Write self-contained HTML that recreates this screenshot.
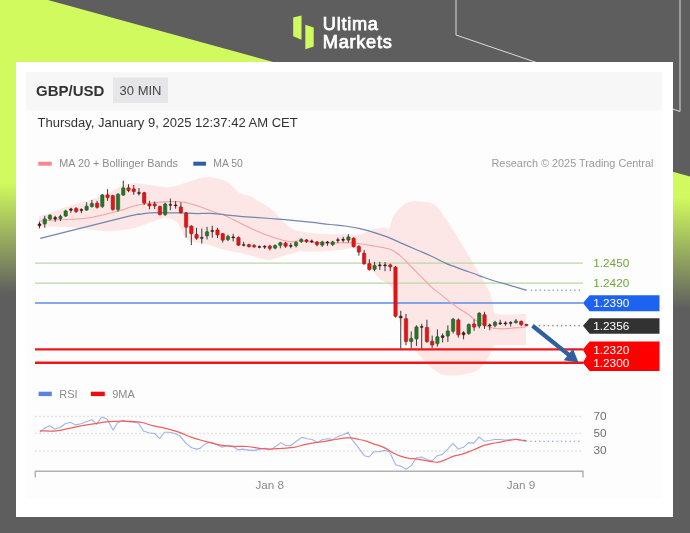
<!DOCTYPE html>
<html><head><meta charset="utf-8">
<style>
html,body{margin:0;padding:0;}
body{width:690px;height:533px;overflow:hidden;background:#5e5e5e;font-family:"Liberation Sans",sans-serif;position:relative;}
svg{position:absolute;left:0;top:0;}
svg text{font-family:"Liberation Sans",sans-serif;}
</style></head><body>
<svg width="690" height="533" viewBox="0 0 690 533">
<defs>
<linearGradient id="bg" gradientUnits="userSpaceOnUse" x1="0" y1="183" x2="-2.4" y2="294">
<stop offset="0" stop-color="#d0fa5e"/><stop offset="1" stop-color="#5e5e5e"/>
</linearGradient>
</defs>
<rect width="690" height="533" fill="#5e5e5e"/>
<polygon points="0,0 48,0 690,176.5 690,533 0,533" fill="url(#bg)"/>
<polyline points="456,0 456,35 680,111.5 680,0" fill="none" stroke="#dcdcdc" stroke-width="1"/>
<!-- logo -->
<g id="logo">
<polygon points="293.2,17.5 301.5,15.4 301.5,39.8 293.2,36.3" fill="#d0fa5e"/>
<polygon points="305.3,24.7 313.7,27.6 313.7,46.4 305.3,49.3" fill="#d0fa5e"/>
<text x="322.8" y="30.2" font-size="18.2" fill="#fff" stroke="#fff" stroke-width="0.75" letter-spacing="0.72">Ultima</text>
<text x="322.8" y="48" font-size="18.2" fill="#fff" stroke="#fff" stroke-width="0.75" letter-spacing="0.72">Markets</text>
</g>
<!-- card -->
<rect x="16" y="62" width="657" height="455" fill="#ffffff"/>
<rect x="26" y="72" width="636" height="427" fill="#fdfdfd"/>
<rect x="26" y="72" width="636" height="38.5" fill="#f7f7f7"/>
<rect x="113" y="77.5" width="55" height="25.5" fill="#e6e6ea"/>
<filter id="bl" x="0" y="0" width="690" height="533" filterUnits="userSpaceOnUse"><feGaussianBlur stdDeviation="0.4"/></filter>
<g filter="url(#bl)">
<text x="36" y="95.7" font-size="15" font-weight="700" fill="#333">GBP/USD</text>
<text x="119.6" y="95.3" font-size="13" fill="#444">30 MIN</text>
<text x="37.5" y="127.3" font-size="13.03" fill="#333">Thursday, January 9, 2025 12:37:42 AM CET</text>
<!-- legend -->
<rect x="38.3" y="161.7" width="13.4" height="4" fill="#f08a90"/>
<text x="59.3" y="167.3" font-size="10.8" fill="#8c8c8c">MA 20 + Bollinger Bands</text>
<rect x="193.3" y="161.7" width="12.7" height="4" fill="#2e5fa6"/>
<text x="213.3" y="167.3" font-size="10.4" fill="#8c8c8c">MA 50</text>
<text x="491.5" y="167.3" font-size="10.86" fill="#9a9a9a">Research © 2025 Trading Central</text>
<!-- bollinger -->
<path d="M38.9,215.7 C40.8,215.3 45.0,214.6 50.3,212.9 C55.6,211.2 63.8,207.8 70.6,205.6 C77.3,203.4 84.1,201.9 90.9,199.5 C97.6,197.1 105.8,193.7 111.2,191.4 C116.6,189.0 119.3,186.6 123.3,185.3 C127.4,183.9 130.8,183.3 135.5,183.3 C140.3,183.3 146.3,184.6 151.8,185.3 C157.2,186.0 162.6,187.7 168.0,187.3 C173.4,187.0 179.6,184.6 184.2,183.3 C188.9,182.0 192.9,180.5 196.0,179.5 C199.1,178.5 200.3,177.8 203.0,177.5 C205.7,177.2 209.0,177.2 212.0,177.5 C215.0,177.8 218.3,178.7 221.0,179.5 C223.7,180.3 224.8,180.2 228.0,182.5 C231.2,184.8 236.4,190.8 240.0,193.0 C243.7,195.3 246.9,194.8 249.8,196.0 C252.7,197.3 254.8,199.0 257.3,200.5 C259.8,202.0 262.3,203.4 264.8,205.0 C267.3,206.6 270.3,208.6 272.3,210.3 C274.3,211.9 275.3,213.3 276.8,214.8 C278.3,216.3 279.6,217.5 281.3,219.3 C283.0,221.0 285.1,223.7 286.9,225.3 C288.7,226.9 290.1,227.7 292.3,228.7 C294.5,229.7 296.2,230.5 300.0,231.3 C303.8,232.1 310.0,233.0 315.0,233.5 C320.0,234.0 325.0,234.2 330.0,234.3 C335.0,234.4 340.5,234.2 345.0,234.3 C349.5,234.4 354.1,235.2 357.1,235.0 C360.1,234.9 360.6,234.4 363.1,233.5 C365.6,232.7 368.6,230.8 372.1,229.8 C375.6,228.8 381.3,227.7 384.1,227.5 C386.9,227.4 387.5,230.8 389.0,229.0 C390.5,227.2 391.0,220.7 393.0,217.0 C395.0,213.3 398.3,209.5 401.0,207.0 C403.7,204.5 405.7,202.9 409.0,202.0 C412.3,201.1 416.7,201.0 421.0,201.5 C425.3,202.0 430.8,202.1 435.0,205.0 C439.2,207.9 442.2,213.5 446.0,219.0 C449.8,224.5 454.0,231.5 458.0,238.0 C462.0,244.5 466.0,251.3 470.0,258.0 C474.0,264.7 478.8,272.3 482.0,278.0 C485.2,283.7 487.7,287.7 489.5,292.0 C491.3,296.3 491.8,300.3 493.0,304.0 C494.2,307.7 491.5,312.3 497.0,314.0 C502.5,315.7 521.2,314.0 526.0,314.0 L526.0,345.3 C521.3,345.3 503.3,345.2 498.0,345.3 C492.7,345.4 495.2,344.9 494.0,346.0 C492.8,347.1 492.3,349.5 491.0,352.0 C489.7,354.5 488.5,357.8 486.0,361.0 C483.5,364.2 480.3,368.7 476.0,371.0 C471.7,373.3 465.3,374.3 460.0,375.0 C454.7,375.7 448.5,376.0 444.0,375.0 C439.5,374.0 436.8,372.0 433.0,369.0 C429.2,366.0 425.0,361.3 421.0,357.0 C417.0,352.7 412.7,349.2 409.0,343.0 C405.3,336.8 401.7,328.5 399.0,320.0 C396.3,311.5 394.8,298.0 393.0,292.0 C391.2,286.0 390.2,286.2 388.0,284.0 C385.8,281.8 382.7,281.3 380.0,279.0 C377.3,276.7 374.3,273.3 372.0,270.0 C369.7,266.7 368.0,262.2 366.0,259.0 C364.0,255.8 362.2,252.9 360.0,251.0 C357.8,249.1 355.0,248.1 352.6,247.8 C350.1,247.5 348.8,248.8 345.0,249.3 C341.3,249.8 335.0,250.4 330.0,250.8 C325.0,251.2 319.5,251.4 315.0,251.6 C310.5,251.7 305.6,251.7 303.1,251.6 C300.6,251.4 301.5,250.6 300.0,250.8 C298.5,251.1 296.6,252.3 294.1,253.1 C291.6,253.8 288.1,254.4 285.1,255.3 C282.1,256.2 278.6,257.6 276.1,258.3 C273.6,259.1 272.3,259.7 270.1,259.8 C267.8,259.9 265.6,259.7 262.6,259.1 C259.5,258.4 255.8,257.1 252.0,256.1 C248.3,255.1 243.3,253.8 240.0,253.1 C236.8,252.3 235.5,252.2 232.5,251.6 C229.5,250.9 226.8,250.6 222.0,249.3 C217.3,248.0 209.1,244.8 204.1,243.6 C199.1,242.4 195.1,242.9 192.1,242.1 C189.1,241.2 188.1,240.8 186.1,238.3 C184.1,235.8 181.6,229.7 180.1,227.1 C178.6,224.4 178.6,223.9 177.1,222.6 C175.6,221.2 173.1,219.5 171.1,218.8 C169.0,218.0 167.0,217.9 165.0,218.0 C163.0,218.2 161.5,218.8 159.0,219.5 C156.5,220.3 154.0,221.2 150.0,222.6 C146.0,223.9 141.0,226.4 135.0,227.8 C129.0,229.2 120.3,230.5 114.1,231.0 C107.8,231.4 104.1,230.9 97.6,230.4 C91.1,229.8 84.8,228.5 75.0,227.8 C65.3,227.1 45.0,226.6 39.0,226.3 Z" fill="#fde6e6"/>
<!-- h lines -->
<line x1="35" x2="583" y1="263.1" y2="263.1" stroke="#b9d9a2" stroke-width="1.4"/>
<line x1="35" x2="583" y1="283.1" y2="283.1" stroke="#b9d9a2" stroke-width="1.4"/>
<line x1="35" x2="583" y1="303" y2="303" stroke="#5b8be8" stroke-width="1.4"/>
<line x1="35" x2="583" y1="349.4" y2="349.4" stroke="#f01818" stroke-width="2.4"/>
<line x1="35" x2="583" y1="362.8" y2="362.8" stroke="#f01818" stroke-width="2.4"/>
<!-- MAs -->
<path d="M39.0,221.1 C42.5,220.9 51.5,220.4 60.0,219.8 C68.5,219.3 80.1,219.3 90.1,217.7 C100.1,216.2 113.5,212.2 120.0,210.5 C126.5,208.8 125.8,208.5 129.0,207.5 C132.3,206.6 136.0,205.6 139.5,204.8 C143.0,204.1 146.8,203.5 150.0,203.0 C153.3,202.6 155.8,202.5 159.0,202.3 C162.3,202.0 166.0,201.6 169.5,201.5 C173.1,201.5 177.1,201.6 180.1,201.8 C183.1,202.1 184.6,202.3 187.6,203.0 C190.6,203.7 194.8,205.0 198.1,206.0 C201.3,207.1 204.1,208.2 207.1,209.3 C210.1,210.5 213.1,211.8 216.1,212.8 C219.1,213.8 222.3,214.4 225.0,215.5 C227.8,216.6 230.0,218.0 232.5,219.3 C235.0,220.5 237.5,221.8 240.0,223.0 C242.5,224.3 245.0,225.6 247.5,226.8 C250.0,228.0 252.5,229.1 255.0,230.2 C257.5,231.4 260.1,232.5 262.6,233.5 C265.1,234.5 267.6,235.4 270.1,236.2 C272.6,237.1 275.1,238.0 277.6,238.8 C280.1,239.5 282.6,240.3 285.1,240.8 C287.6,241.3 290.1,241.8 292.6,241.8 C295.1,241.8 296.3,240.6 300.0,240.8 C303.7,240.9 310.0,242.1 315.0,242.6 C320.0,243.0 325.5,243.3 330.0,243.3 C334.5,243.3 338.5,242.6 342.0,242.6 C345.5,242.5 348.0,242.7 351.1,242.9 C354.1,243.1 356.1,243.2 360.1,243.8 C364.1,244.3 370.1,245.4 375.1,246.3 C380.1,247.2 385.8,247.7 390.1,249.3 C394.3,251.0 397.1,253.3 400.6,256.2 C404.1,259.0 407.5,263.1 410.9,266.5 C414.4,269.9 417.8,273.4 421.2,276.8 C424.7,280.2 428.1,284.0 431.5,287.1 C435.0,290.2 438.4,292.6 441.9,295.4 C445.3,298.1 449.1,301.3 452.2,303.6 C455.2,305.9 457.4,307.6 460.0,309.3 C462.6,311.0 465.0,312.0 467.5,313.8 C470.0,315.5 472.5,318.0 475.0,319.8 C477.5,321.5 480.0,323.0 482.5,324.3 C485.0,325.5 487.5,326.5 490.0,327.3 C492.5,328.0 495.0,328.5 497.5,328.8 C500.0,329.0 502.5,328.9 505.0,328.8 C507.5,328.7 510.1,328.2 512.6,328.0 C515.1,327.9 517.8,327.9 520.1,327.7 C522.3,327.5 525.1,327.0 526.1,326.8" fill="none" stroke="#f3a3a3" stroke-width="1.1"/>
<path d="M40.2,238.3 C55.0,234.6 112.5,220.3 129.0,216.2 C145.6,212.2 136.0,214.9 139.5,214.3 C143.0,213.7 146.8,213.1 150.0,212.8 C153.3,212.5 155.8,212.5 159.0,212.5 C162.3,212.5 166.0,212.7 169.5,212.8 C173.1,212.8 177.1,212.7 180.1,212.8 C183.1,212.9 184.6,213.1 187.6,213.2 C190.6,213.4 194.3,213.5 198.1,213.5 C201.8,213.5 205.5,213.1 210.0,213.3 C214.5,213.5 220.0,214.3 225.0,214.8 C230.0,215.3 235.0,215.9 240.0,216.3 C245.0,216.7 250.0,217.0 255.0,217.3 C260.1,217.7 265.1,218.1 270.1,218.5 C275.1,218.9 280.1,219.3 285.1,219.7 C290.1,220.2 295.0,220.6 300.0,221.1 C305.0,221.6 310.0,222.2 315.0,222.7 C320.0,223.3 325.0,224.0 330.0,224.5 C335.0,225.1 340.0,225.3 345.0,226.0 C350.1,226.7 355.1,227.6 360.1,228.7 C365.1,229.9 370.6,231.4 375.1,232.8 C379.6,234.1 382.9,235.2 387.1,236.8 C391.2,238.5 395.0,240.4 400.0,242.6 C405.0,244.7 411.9,247.7 417.1,250.0 C422.4,252.3 426.7,254.0 431.5,256.2 C436.4,258.4 440.8,261.2 446.0,263.4 C451.1,265.6 456.8,267.5 462.5,269.6 C468.1,271.6 475.2,274.0 480.0,275.8 C484.8,277.5 483.7,277.6 491.5,280.0 C499.3,282.4 520.9,288.5 526.8,290.2" fill="none" stroke="#7087b2" stroke-width="1.25"/>
<rect x="530.80" y="289.50" width="1.4" height="1.4" fill="#8aa3cf"/><rect x="535.15" y="289.50" width="1.4" height="1.4" fill="#8aa3cf"/><rect x="539.50" y="289.50" width="1.4" height="1.4" fill="#8aa3cf"/><rect x="543.85" y="289.50" width="1.4" height="1.4" fill="#8aa3cf"/><rect x="548.20" y="289.50" width="1.4" height="1.4" fill="#8aa3cf"/><rect x="552.55" y="289.50" width="1.4" height="1.4" fill="#8aa3cf"/><rect x="556.90" y="289.50" width="1.4" height="1.4" fill="#8aa3cf"/><rect x="561.25" y="289.50" width="1.4" height="1.4" fill="#8aa3cf"/><rect x="565.60" y="289.50" width="1.4" height="1.4" fill="#8aa3cf"/><rect x="569.95" y="289.50" width="1.4" height="1.4" fill="#8aa3cf"/><rect x="574.30" y="289.50" width="1.4" height="1.4" fill="#8aa3cf"/><rect x="578.65" y="289.50" width="1.4" height="1.4" fill="#8aa3cf"/>
<rect x="539.00" y="324.90" width="1.4" height="1.4" fill="#8a8a8a"/><rect x="543.38" y="324.90" width="1.4" height="1.4" fill="#8a8a8a"/><rect x="547.76" y="324.90" width="1.4" height="1.4" fill="#8a8a8a"/><rect x="552.14" y="324.90" width="1.4" height="1.4" fill="#8a8a8a"/><rect x="556.52" y="324.90" width="1.4" height="1.4" fill="#8a8a8a"/><rect x="560.90" y="324.90" width="1.4" height="1.4" fill="#8a8a8a"/><rect x="565.28" y="324.90" width="1.4" height="1.4" fill="#8a8a8a"/><rect x="569.66" y="324.90" width="1.4" height="1.4" fill="#8a8a8a"/><rect x="574.04" y="324.90" width="1.4" height="1.4" fill="#8a8a8a"/><rect x="578.42" y="324.90" width="1.4" height="1.4" fill="#8a8a8a"/>
<!-- candles -->
<line x1="39.50" y1="221.8" x2="39.50" y2="228.3" stroke="#3a3a3a" stroke-width="1"/>
<rect x="38.00" y="223.8" width="3.0" height="2.1" rx="0.8" fill="#4a1a1a" stroke="#4a1a1a" stroke-width="0.5"/>
<line x1="44.74" y1="215.8" x2="44.74" y2="227.8" stroke="#3a3a3a" stroke-width="1"/>
<rect x="43.04" y="218.8" width="3.4" height="5.3" rx="0.8" fill="#257529" stroke="#1e5a22" stroke-width="0.5"/>
<line x1="49.97" y1="214.3" x2="49.97" y2="220.3" stroke="#3a3a3a" stroke-width="1"/>
<rect x="48.27" y="215.0" width="3.4" height="4.2" rx="0.8" fill="#257529" stroke="#1e5a22" stroke-width="0.5"/>
<line x1="55.21" y1="215.8" x2="55.21" y2="221.8" stroke="#3a3a3a" stroke-width="1"/>
<rect x="53.71" y="217.3" width="3.0" height="2.0" rx="0.8" fill="#4a1a1a" stroke="#4a1a1a" stroke-width="0.5"/>
<line x1="60.44" y1="214.7" x2="60.44" y2="221.1" stroke="#3a3a3a" stroke-width="1"/>
<rect x="58.74" y="216.2" width="3.4" height="2.6" rx="0.8" fill="#257529" stroke="#1e5a22" stroke-width="0.5"/>
<line x1="65.68" y1="209.8" x2="65.68" y2="216.8" stroke="#3a3a3a" stroke-width="1"/>
<rect x="63.98" y="210.8" width="3.4" height="5.4" rx="0.8" fill="#257529" stroke="#1e5a22" stroke-width="0.5"/>
<line x1="70.91" y1="207.8" x2="70.91" y2="212.8" stroke="#3a3a3a" stroke-width="1"/>
<rect x="69.41" y="208.7" width="3.0" height="1.8" rx="0.8" fill="#4a1a1a" stroke="#4a1a1a" stroke-width="0.5"/>
<line x1="76.15" y1="207.2" x2="76.15" y2="212.8" stroke="#3a3a3a" stroke-width="1"/>
<rect x="74.45" y="208.3" width="3.4" height="3.5" rx="0.8" fill="#e01515" stroke="#a01010" stroke-width="0.5"/>
<line x1="81.38" y1="208.3" x2="81.38" y2="213.2" stroke="#3a3a3a" stroke-width="1"/>
<rect x="79.88" y="209.3" width="3.0" height="1.5" rx="0.8" fill="#4a1a1a" stroke="#4a1a1a" stroke-width="0.5"/>
<line x1="86.62" y1="202.3" x2="86.62" y2="210.8" stroke="#3a3a3a" stroke-width="1"/>
<rect x="84.92" y="206.0" width="3.4" height="4.2" rx="0.8" fill="#257529" stroke="#1e5a22" stroke-width="0.5"/>
<line x1="91.86" y1="200.0" x2="91.86" y2="207.5" stroke="#3a3a3a" stroke-width="1"/>
<rect x="90.16" y="203.3" width="3.4" height="3.5" rx="0.8" fill="#257529" stroke="#1e5a22" stroke-width="0.5"/>
<line x1="97.09" y1="200.8" x2="97.09" y2="208.7" stroke="#3a3a3a" stroke-width="1"/>
<rect x="95.39" y="203.0" width="3.4" height="4.5" rx="0.8" fill="#e01515" stroke="#a01010" stroke-width="0.5"/>
<line x1="102.33" y1="194.0" x2="102.33" y2="207.8" stroke="#3a3a3a" stroke-width="1"/>
<rect x="100.63" y="194.8" width="3.4" height="12.0" rx="0.8" fill="#257529" stroke="#1e5a22" stroke-width="0.5"/>
<line x1="107.56" y1="189.2" x2="107.56" y2="200.8" stroke="#3a3a3a" stroke-width="1"/>
<rect x="105.86" y="194.8" width="3.4" height="3.0" rx="0.8" fill="#e01515" stroke="#a01010" stroke-width="0.5"/>
<line x1="112.80" y1="194.8" x2="112.80" y2="210.5" stroke="#3a3a3a" stroke-width="1"/>
<rect x="111.10" y="195.5" width="3.4" height="14.3" rx="0.8" fill="#e01515" stroke="#a01010" stroke-width="0.5"/>
<line x1="118.03" y1="193.3" x2="118.03" y2="211.7" stroke="#3a3a3a" stroke-width="1"/>
<rect x="116.33" y="194.0" width="3.4" height="15.8" rx="0.8" fill="#257529" stroke="#1e5a22" stroke-width="0.5"/>
<line x1="123.27" y1="180.8" x2="123.27" y2="195.8" stroke="#3a3a3a" stroke-width="1"/>
<rect x="121.57" y="187.7" width="3.4" height="7.5" rx="0.8" fill="#257529" stroke="#1e5a22" stroke-width="0.5"/>
<line x1="128.50" y1="184.3" x2="128.50" y2="192.2" stroke="#3a3a3a" stroke-width="1"/>
<rect x="126.80" y="187.7" width="3.4" height="3.0" rx="0.8" fill="#e01515" stroke="#a01010" stroke-width="0.5"/>
<line x1="133.74" y1="185.0" x2="133.74" y2="194.8" stroke="#3a3a3a" stroke-width="1"/>
<rect x="132.04" y="188.8" width="3.4" height="3.0" rx="0.8" fill="#e01515" stroke="#a01010" stroke-width="0.5"/>
<line x1="138.97" y1="188.0" x2="138.97" y2="195.5" stroke="#3a3a3a" stroke-width="1"/>
<rect x="137.47" y="192.2" width="3.0" height="1.5" rx="0.8" fill="#4a1a1a" stroke="#4a1a1a" stroke-width="0.5"/>
<line x1="144.21" y1="191.8" x2="144.21" y2="204.8" stroke="#3a3a3a" stroke-width="1"/>
<rect x="142.51" y="192.5" width="3.4" height="10.8" rx="0.8" fill="#e01515" stroke="#a01010" stroke-width="0.5"/>
<line x1="149.45" y1="200.8" x2="149.45" y2="209.3" stroke="#3a3a3a" stroke-width="1"/>
<rect x="147.75" y="203.8" width="3.4" height="2.3" rx="0.8" fill="#e01515" stroke="#a01010" stroke-width="0.5"/>
<line x1="154.68" y1="201.5" x2="154.68" y2="209.0" stroke="#3a3a3a" stroke-width="1"/>
<rect x="152.98" y="203.8" width="3.4" height="2.3" rx="0.8" fill="#e01515" stroke="#a01010" stroke-width="0.5"/>
<line x1="159.92" y1="205.7" x2="159.92" y2="215.3" stroke="#3a3a3a" stroke-width="1"/>
<rect x="158.22" y="206.3" width="3.4" height="8.4" rx="0.8" fill="#e01515" stroke="#a01010" stroke-width="0.5"/>
<line x1="165.15" y1="202.7" x2="165.15" y2="215.8" stroke="#3a3a3a" stroke-width="1"/>
<rect x="163.45" y="203.8" width="3.4" height="11.0" rx="0.8" fill="#257529" stroke="#1e5a22" stroke-width="0.5"/>
<line x1="170.39" y1="198.5" x2="170.39" y2="210.2" stroke="#3a3a3a" stroke-width="1"/>
<rect x="168.89" y="204.2" width="3.0" height="1.2" rx="0.8" fill="#4a1a1a" stroke="#4a1a1a" stroke-width="0.5"/>
<line x1="175.62" y1="201.2" x2="175.62" y2="208.7" stroke="#3a3a3a" stroke-width="1"/>
<rect x="174.12" y="204.8" width="3.0" height="1.2" rx="0.8" fill="#4a1a1a" stroke="#4a1a1a" stroke-width="0.5"/>
<line x1="180.86" y1="202.3" x2="180.86" y2="213.5" stroke="#3a3a3a" stroke-width="1"/>
<rect x="179.16" y="206.8" width="3.4" height="6.0" rx="0.8" fill="#e01515" stroke="#a01010" stroke-width="0.5"/>
<line x1="186.09" y1="212.0" x2="186.09" y2="237.6" stroke="#3a3a3a" stroke-width="1"/>
<rect x="184.39" y="212.8" width="3.4" height="14.6" rx="0.8" fill="#e01515" stroke="#a01010" stroke-width="0.5"/>
<line x1="191.33" y1="225.3" x2="191.33" y2="245.1" stroke="#3a3a3a" stroke-width="1"/>
<rect x="189.63" y="225.9" width="3.4" height="8.0" rx="0.8" fill="#e01515" stroke="#a01010" stroke-width="0.5"/>
<line x1="196.56" y1="227.8" x2="196.56" y2="239.8" stroke="#3a3a3a" stroke-width="1"/>
<rect x="194.87" y="234.3" width="3.4" height="4.1" rx="0.8" fill="#e01515" stroke="#a01010" stroke-width="0.5"/>
<line x1="201.80" y1="228.6" x2="201.80" y2="243.6" stroke="#3a3a3a" stroke-width="1"/>
<rect x="200.30" y="237.3" width="3.0" height="1.2" rx="0.8" fill="#4a1a1a" stroke="#4a1a1a" stroke-width="0.5"/>
<line x1="207.04" y1="226.8" x2="207.04" y2="239.4" stroke="#3a3a3a" stroke-width="1"/>
<rect x="205.34" y="231.6" width="3.4" height="4.5" rx="0.8" fill="#257529" stroke="#1e5a22" stroke-width="0.5"/>
<line x1="212.27" y1="225.7" x2="212.27" y2="237.7" stroke="#3a3a3a" stroke-width="1"/>
<rect x="210.77" y="230.2" width="3.0" height="1.5" rx="0.8" fill="#4a1a1a" stroke="#4a1a1a" stroke-width="0.5"/>
<line x1="217.51" y1="227.8" x2="217.51" y2="238.0" stroke="#3a3a3a" stroke-width="1"/>
<rect x="215.81" y="229.8" width="3.4" height="5.3" rx="0.8" fill="#e01515" stroke="#a01010" stroke-width="0.5"/>
<line x1="222.74" y1="232.8" x2="222.74" y2="242.6" stroke="#3a3a3a" stroke-width="1"/>
<rect x="221.04" y="233.5" width="3.4" height="6.8" rx="0.8" fill="#e01515" stroke="#a01010" stroke-width="0.5"/>
<line x1="227.98" y1="234.7" x2="227.98" y2="241.1" stroke="#3a3a3a" stroke-width="1"/>
<rect x="226.28" y="236.2" width="3.4" height="3.6" rx="0.8" fill="#257529" stroke="#1e5a22" stroke-width="0.5"/>
<line x1="233.21" y1="233.8" x2="233.21" y2="241.4" stroke="#3a3a3a" stroke-width="1"/>
<rect x="231.71" y="236.8" width="3.0" height="1.2" rx="0.8" fill="#4a1a1a" stroke="#4a1a1a" stroke-width="0.5"/>
<line x1="238.45" y1="236.5" x2="238.45" y2="245.9" stroke="#3a3a3a" stroke-width="1"/>
<rect x="236.75" y="237.3" width="3.4" height="8.0" rx="0.8" fill="#e01515" stroke="#a01010" stroke-width="0.5"/>
<line x1="243.68" y1="241.8" x2="243.68" y2="246.3" stroke="#3a3a3a" stroke-width="1"/>
<rect x="242.18" y="244.4" width="3.0" height="1.2" rx="0.8" fill="#4a1a1a" stroke="#4a1a1a" stroke-width="0.5"/>
<line x1="248.92" y1="243.8" x2="248.92" y2="247.4" stroke="#3a3a3a" stroke-width="1"/>
<rect x="247.22" y="244.4" width="3.4" height="2.4" rx="0.8" fill="#e01515" stroke="#a01010" stroke-width="0.5"/>
<line x1="254.16" y1="244.1" x2="254.16" y2="247.8" stroke="#3a3a3a" stroke-width="1"/>
<rect x="252.46" y="245.3" width="3.4" height="1.8" rx="0.8" fill="#e01515" stroke="#a01010" stroke-width="0.5"/>
<line x1="259.39" y1="245.6" x2="259.39" y2="248.3" stroke="#3a3a3a" stroke-width="1"/>
<rect x="257.89" y="246.3" width="3.0" height="1.2" rx="0.8" fill="#4a1a1a" stroke="#4a1a1a" stroke-width="0.5"/>
<line x1="264.63" y1="245.3" x2="264.63" y2="248.9" stroke="#3a3a3a" stroke-width="1"/>
<rect x="263.13" y="246.0" width="3.0" height="1.2" rx="0.8" fill="#4a1a1a" stroke="#4a1a1a" stroke-width="0.5"/>
<line x1="269.86" y1="244.8" x2="269.86" y2="250.4" stroke="#3a3a3a" stroke-width="1"/>
<rect x="268.16" y="245.9" width="3.4" height="2.7" rx="0.8" fill="#e01515" stroke="#a01010" stroke-width="0.5"/>
<line x1="275.10" y1="244.4" x2="275.10" y2="249.3" stroke="#3a3a3a" stroke-width="1"/>
<rect x="273.40" y="245.3" width="3.4" height="3.0" rx="0.8" fill="#257529" stroke="#1e5a22" stroke-width="0.5"/>
<line x1="280.33" y1="241.8" x2="280.33" y2="248.3" stroke="#3a3a3a" stroke-width="1"/>
<rect x="278.63" y="242.6" width="3.4" height="3.0" rx="0.8" fill="#257529" stroke="#1e5a22" stroke-width="0.5"/>
<line x1="285.57" y1="241.8" x2="285.57" y2="247.8" stroke="#3a3a3a" stroke-width="1"/>
<rect x="283.87" y="242.9" width="3.4" height="3.5" rx="0.8" fill="#e01515" stroke="#a01010" stroke-width="0.5"/>
<line x1="290.80" y1="242.9" x2="290.80" y2="248.3" stroke="#3a3a3a" stroke-width="1"/>
<rect x="289.30" y="245.3" width="3.0" height="1.2" rx="0.8" fill="#4a1a1a" stroke="#4a1a1a" stroke-width="0.5"/>
<line x1="296.04" y1="241.1" x2="296.04" y2="247.4" stroke="#3a3a3a" stroke-width="1"/>
<rect x="294.34" y="242.3" width="3.4" height="3.6" rx="0.8" fill="#257529" stroke="#1e5a22" stroke-width="0.5"/>
<line x1="301.27" y1="238.3" x2="301.27" y2="242.9" stroke="#3a3a3a" stroke-width="1"/>
<rect x="299.57" y="239.2" width="3.4" height="2.6" rx="0.8" fill="#257529" stroke="#1e5a22" stroke-width="0.5"/>
<line x1="306.51" y1="239.2" x2="306.51" y2="242.9" stroke="#3a3a3a" stroke-width="1"/>
<rect x="304.81" y="239.8" width="3.4" height="2.0" rx="0.8" fill="#e01515" stroke="#a01010" stroke-width="0.5"/>
<line x1="311.75" y1="239.5" x2="311.75" y2="242.9" stroke="#3a3a3a" stroke-width="1"/>
<rect x="310.25" y="240.8" width="3.0" height="1.2" rx="0.8" fill="#4a1a1a" stroke="#4a1a1a" stroke-width="0.5"/>
<line x1="316.98" y1="241.1" x2="316.98" y2="246.3" stroke="#3a3a3a" stroke-width="1"/>
<rect x="315.28" y="241.8" width="3.4" height="3.0" rx="0.8" fill="#e01515" stroke="#a01010" stroke-width="0.5"/>
<line x1="322.22" y1="240.8" x2="322.22" y2="246.8" stroke="#3a3a3a" stroke-width="1"/>
<rect x="320.52" y="241.8" width="3.4" height="3.5" rx="0.8" fill="#257529" stroke="#1e5a22" stroke-width="0.5"/>
<line x1="327.45" y1="241.1" x2="327.45" y2="245.9" stroke="#3a3a3a" stroke-width="1"/>
<rect x="325.95" y="241.8" width="3.0" height="1.2" rx="0.8" fill="#4a1a1a" stroke="#4a1a1a" stroke-width="0.5"/>
<line x1="332.69" y1="240.8" x2="332.69" y2="245.9" stroke="#3a3a3a" stroke-width="1"/>
<rect x="330.99" y="241.8" width="3.4" height="3.0" rx="0.8" fill="#257529" stroke="#1e5a22" stroke-width="0.5"/>
<line x1="337.92" y1="237.7" x2="337.92" y2="242.9" stroke="#3a3a3a" stroke-width="1"/>
<rect x="336.42" y="239.5" width="3.0" height="1.2" rx="0.8" fill="#4a1a1a" stroke="#4a1a1a" stroke-width="0.5"/>
<line x1="395.51" y1="266.1" x2="395.51" y2="317.6" stroke="#3a3a3a" stroke-width="1"/>
<rect x="393.81" y="266.9" width="3.4" height="49.5" rx="0.8" fill="#e01515" stroke="#a01010" stroke-width="0.5"/>
<line x1="400.75" y1="310.8" x2="400.75" y2="348.6" stroke="#3a3a3a" stroke-width="1"/>
<rect x="399.25" y="316.0" width="3.0" height="2.1" rx="0.8" fill="#4a1a1a" stroke="#4a1a1a" stroke-width="0.5"/>
<line x1="405.99" y1="313.9" x2="405.99" y2="345.3" stroke="#3a3a3a" stroke-width="1"/>
<rect x="404.29" y="318.5" width="3.4" height="23.3" rx="0.8" fill="#e01515" stroke="#a01010" stroke-width="0.5"/>
<line x1="411.22" y1="331.4" x2="411.22" y2="348.6" stroke="#3a3a3a" stroke-width="1"/>
<rect x="409.52" y="338.2" width="3.4" height="3.5" rx="0.8" fill="#257529" stroke="#1e5a22" stroke-width="0.5"/>
<line x1="416.46" y1="325.3" x2="416.46" y2="345.9" stroke="#3a3a3a" stroke-width="1"/>
<rect x="414.76" y="326.7" width="3.4" height="12.4" rx="0.8" fill="#257529" stroke="#1e5a22" stroke-width="0.5"/>
<line x1="421.69" y1="323.8" x2="421.69" y2="348.6" stroke="#3a3a3a" stroke-width="1"/>
<rect x="420.19" y="326.3" width="3.0" height="1.2" rx="0.8" fill="#4a1a1a" stroke="#4a1a1a" stroke-width="0.5"/>
<line x1="426.93" y1="319.7" x2="426.93" y2="342.8" stroke="#3a3a3a" stroke-width="1"/>
<rect x="425.23" y="327.3" width="3.4" height="14.4" rx="0.8" fill="#e01515" stroke="#a01010" stroke-width="0.5"/>
<line x1="432.16" y1="335.6" x2="432.16" y2="347.9" stroke="#3a3a3a" stroke-width="1"/>
<rect x="430.46" y="341.1" width="3.4" height="4.1" rx="0.8" fill="#e01515" stroke="#a01010" stroke-width="0.5"/>
<line x1="437.40" y1="329.4" x2="437.40" y2="346.5" stroke="#3a3a3a" stroke-width="1"/>
<rect x="435.70" y="336.6" width="3.4" height="7.2" rx="0.8" fill="#257529" stroke="#1e5a22" stroke-width="0.5"/>
<line x1="442.63" y1="333.5" x2="442.63" y2="342.4" stroke="#3a3a3a" stroke-width="1"/>
<rect x="441.13" y="335.6" width="3.0" height="2.1" rx="0.8" fill="#4a1a1a" stroke="#4a1a1a" stroke-width="0.5"/>
<line x1="447.87" y1="325.3" x2="447.87" y2="341.8" stroke="#3a3a3a" stroke-width="1"/>
<rect x="446.17" y="330.8" width="3.4" height="5.4" rx="0.8" fill="#257529" stroke="#1e5a22" stroke-width="0.5"/>
<line x1="453.10" y1="318.0" x2="453.10" y2="333.5" stroke="#3a3a3a" stroke-width="1"/>
<rect x="451.40" y="319.1" width="3.4" height="12.4" rx="0.8" fill="#257529" stroke="#1e5a22" stroke-width="0.5"/>
<line x1="458.34" y1="318.5" x2="458.34" y2="337.6" stroke="#3a3a3a" stroke-width="1"/>
<rect x="456.64" y="319.7" width="3.4" height="15.3" rx="0.8" fill="#e01515" stroke="#a01010" stroke-width="0.5"/>
<line x1="343.16" y1="236.8" x2="343.16" y2="242.3" stroke="#3a3a3a" stroke-width="1"/>
<rect x="341.66" y="239.1" width="3.0" height="1.3" rx="0.8" fill="#4a1a1a" stroke="#4a1a1a" stroke-width="0.5"/>
<line x1="348.39" y1="234.2" x2="348.39" y2="242.6" stroke="#3a3a3a" stroke-width="1"/>
<rect x="346.69" y="236.8" width="3.4" height="3.5" rx="0.8" fill="#257529" stroke="#1e5a22" stroke-width="0.5"/>
<line x1="353.63" y1="237.3" x2="353.63" y2="247.3" stroke="#3a3a3a" stroke-width="1"/>
<rect x="351.93" y="238.1" width="3.4" height="8.8" rx="0.8" fill="#e01515" stroke="#a01010" stroke-width="0.5"/>
<line x1="358.87" y1="245.2" x2="358.87" y2="255.7" stroke="#3a3a3a" stroke-width="1"/>
<rect x="357.17" y="246.3" width="3.4" height="5.9" rx="0.8" fill="#e01515" stroke="#a01010" stroke-width="0.5"/>
<line x1="364.10" y1="250.0" x2="364.10" y2="264.7" stroke="#3a3a3a" stroke-width="1"/>
<rect x="362.40" y="253.1" width="3.4" height="10.9" rx="0.8" fill="#e01515" stroke="#a01010" stroke-width="0.5"/>
<line x1="369.34" y1="259.2" x2="369.34" y2="270.6" stroke="#3a3a3a" stroke-width="1"/>
<rect x="367.64" y="263.4" width="3.4" height="6.3" rx="0.8" fill="#e01515" stroke="#a01010" stroke-width="0.5"/>
<line x1="374.57" y1="261.8" x2="374.57" y2="271.2" stroke="#3a3a3a" stroke-width="1"/>
<rect x="372.87" y="265.3" width="3.4" height="4.3" rx="0.8" fill="#257529" stroke="#1e5a22" stroke-width="0.5"/>
<line x1="379.81" y1="261.8" x2="379.81" y2="269.9" stroke="#3a3a3a" stroke-width="1"/>
<rect x="378.31" y="264.7" width="3.0" height="1.3" rx="0.8" fill="#4a1a1a" stroke="#4a1a1a" stroke-width="0.5"/>
<line x1="385.04" y1="262.0" x2="385.04" y2="271.2" stroke="#3a3a3a" stroke-width="1"/>
<rect x="383.54" y="264.7" width="3.0" height="1.3" rx="0.8" fill="#4a1a1a" stroke="#4a1a1a" stroke-width="0.5"/>
<line x1="390.28" y1="263.6" x2="390.28" y2="271.2" stroke="#3a3a3a" stroke-width="1"/>
<rect x="388.58" y="264.7" width="3.4" height="2.4" rx="0.8" fill="#e01515" stroke="#a01010" stroke-width="0.5"/>
<line x1="463.58" y1="331.1" x2="463.58" y2="339.3" stroke="#3a3a3a" stroke-width="1"/>
<rect x="462.08" y="332.6" width="3.0" height="2.3" rx="0.8" fill="#4a1a1a" stroke="#4a1a1a" stroke-width="0.5"/>
<line x1="468.81" y1="323.5" x2="468.81" y2="334.8" stroke="#3a3a3a" stroke-width="1"/>
<rect x="467.11" y="324.3" width="3.4" height="9.5" rx="0.8" fill="#257529" stroke="#1e5a22" stroke-width="0.5"/>
<line x1="474.05" y1="319.3" x2="474.05" y2="330.8" stroke="#3a3a3a" stroke-width="1"/>
<rect x="472.35" y="323.8" width="3.4" height="3.5" rx="0.8" fill="#e01515" stroke="#a01010" stroke-width="0.5"/>
<line x1="479.28" y1="312.3" x2="479.28" y2="328.3" stroke="#3a3a3a" stroke-width="1"/>
<rect x="477.58" y="313.0" width="3.4" height="13.2" rx="0.8" fill="#257529" stroke="#1e5a22" stroke-width="0.5"/>
<line x1="484.52" y1="311.8" x2="484.52" y2="328.8" stroke="#3a3a3a" stroke-width="1"/>
<rect x="482.82" y="314.5" width="3.4" height="11.3" rx="0.8" fill="#e01515" stroke="#a01010" stroke-width="0.5"/>
<line x1="489.75" y1="323.5" x2="489.75" y2="330.3" stroke="#3a3a3a" stroke-width="1"/>
<rect x="488.25" y="324.7" width="3.0" height="1.5" rx="0.8" fill="#4a1a1a" stroke="#4a1a1a" stroke-width="0.5"/>
<line x1="494.99" y1="320.8" x2="494.99" y2="327.3" stroke="#3a3a3a" stroke-width="1"/>
<rect x="493.29" y="322.0" width="3.4" height="3.8" rx="0.8" fill="#257529" stroke="#1e5a22" stroke-width="0.5"/>
<line x1="500.22" y1="319.8" x2="500.22" y2="325.0" stroke="#3a3a3a" stroke-width="1"/>
<rect x="498.72" y="322.8" width="3.0" height="1.2" rx="0.8" fill="#4a1a1a" stroke="#4a1a1a" stroke-width="0.5"/>
<line x1="505.46" y1="321.3" x2="505.46" y2="325.8" stroke="#3a3a3a" stroke-width="1"/>
<rect x="503.96" y="322.8" width="3.0" height="1.2" rx="0.8" fill="#4a1a1a" stroke="#4a1a1a" stroke-width="0.5"/>
<line x1="510.69" y1="321.3" x2="510.69" y2="326.5" stroke="#3a3a3a" stroke-width="1"/>
<rect x="509.19" y="322.3" width="3.0" height="1.2" rx="0.8" fill="#4a1a1a" stroke="#4a1a1a" stroke-width="0.5"/>
<line x1="515.93" y1="319.0" x2="515.93" y2="323.5" stroke="#3a3a3a" stroke-width="1"/>
<rect x="514.23" y="320.8" width="3.4" height="2.0" rx="0.8" fill="#257529" stroke="#1e5a22" stroke-width="0.5"/>
<line x1="521.17" y1="320.5" x2="521.17" y2="326.2" stroke="#3a3a3a" stroke-width="1"/>
<rect x="519.47" y="321.3" width="3.4" height="3.5" rx="0.8" fill="#e01515" stroke="#a01010" stroke-width="0.5"/>
<line x1="526.40" y1="323.8" x2="526.40" y2="326.2" stroke="#3a3a3a" stroke-width="1"/>
<rect x="524.70" y="324.3" width="3.4" height="1.5" rx="0.8" fill="#e01515" stroke="#a01010" stroke-width="0.5"/>
<!-- arrow -->
<line x1="532.5" y1="325.8" x2="569.5" y2="355.4" stroke="#2f5f9f" stroke-width="4.3"/>
<polygon points="578.5,362.6 563.7,360.2 572.9,348.8" fill="#2f5f9f"/>
<!-- labels -->
<text x="593.2" y="267" font-size="11.8" fill="#6fa83a">1.2450</text>
<text x="593.2" y="287.3" font-size="11.8" fill="#6fa83a">1.2420</text>
<polygon points="583,303 589.6,295.2 659.5,295.2 659.5,311.2 589.6,311.2" fill="#1f63f0"/>
<text x="593.2" y="306.8" font-size="11.8" fill="#fff">1.2390</text>
<polygon points="583,325.8 589.6,318.2 659.5,318.2 659.5,333.8 589.6,333.8" fill="#333333"/>
<text x="593.2" y="330" font-size="11.8" fill="#fff">1.2356</text>
<polygon points="582.8,349.4 589.6,341.4 659.5,341.4 659.5,371.1 589.6,371.1 582.8,362.8 586.6,356.2" fill="#ff0000"/>
<text x="593.2" y="353.7" font-size="11.8" fill="#fff">1.2320</text>
<text x="593.2" y="367" font-size="11.8" fill="#fff">1.2300</text>
<!-- RSI -->
<rect x="38.6" y="391.7" width="13.2" height="4.4" fill="#5b82e0"/>
<text x="59.2" y="398.3" font-size="11" fill="#8c8c8c">RSI</text>
<rect x="90.8" y="391.7" width="14" height="4.4" fill="#ee1111"/>
<text x="112.2" y="398.3" font-size="11" fill="#8c8c8c">9MA</text>
<rect x="35.30" y="415.80" width="1.4" height="1.4" fill="#d8d8d8"/><rect x="39.30" y="415.80" width="1.4" height="1.4" fill="#d8d8d8"/><rect x="43.30" y="415.80" width="1.4" height="1.4" fill="#d8d8d8"/><rect x="47.30" y="415.80" width="1.4" height="1.4" fill="#d8d8d8"/><rect x="51.30" y="415.80" width="1.4" height="1.4" fill="#d8d8d8"/><rect x="55.30" y="415.80" width="1.4" height="1.4" fill="#d8d8d8"/><rect x="59.30" y="415.80" width="1.4" height="1.4" fill="#d8d8d8"/><rect x="63.30" y="415.80" width="1.4" height="1.4" fill="#d8d8d8"/><rect x="67.30" y="415.80" width="1.4" height="1.4" fill="#d8d8d8"/><rect x="71.30" y="415.80" width="1.4" height="1.4" fill="#d8d8d8"/><rect x="75.30" y="415.80" width="1.4" height="1.4" fill="#d8d8d8"/><rect x="79.30" y="415.80" width="1.4" height="1.4" fill="#d8d8d8"/><rect x="83.30" y="415.80" width="1.4" height="1.4" fill="#d8d8d8"/><rect x="87.30" y="415.80" width="1.4" height="1.4" fill="#d8d8d8"/><rect x="91.30" y="415.80" width="1.4" height="1.4" fill="#d8d8d8"/><rect x="95.30" y="415.80" width="1.4" height="1.4" fill="#d8d8d8"/><rect x="99.30" y="415.80" width="1.4" height="1.4" fill="#d8d8d8"/><rect x="103.30" y="415.80" width="1.4" height="1.4" fill="#d8d8d8"/><rect x="107.30" y="415.80" width="1.4" height="1.4" fill="#d8d8d8"/><rect x="111.30" y="415.80" width="1.4" height="1.4" fill="#d8d8d8"/><rect x="115.30" y="415.80" width="1.4" height="1.4" fill="#d8d8d8"/><rect x="119.30" y="415.80" width="1.4" height="1.4" fill="#d8d8d8"/><rect x="123.30" y="415.80" width="1.4" height="1.4" fill="#d8d8d8"/><rect x="127.30" y="415.80" width="1.4" height="1.4" fill="#d8d8d8"/><rect x="131.30" y="415.80" width="1.4" height="1.4" fill="#d8d8d8"/><rect x="135.30" y="415.80" width="1.4" height="1.4" fill="#d8d8d8"/><rect x="139.30" y="415.80" width="1.4" height="1.4" fill="#d8d8d8"/><rect x="143.30" y="415.80" width="1.4" height="1.4" fill="#d8d8d8"/><rect x="147.30" y="415.80" width="1.4" height="1.4" fill="#d8d8d8"/><rect x="151.30" y="415.80" width="1.4" height="1.4" fill="#d8d8d8"/><rect x="155.30" y="415.80" width="1.4" height="1.4" fill="#d8d8d8"/><rect x="159.30" y="415.80" width="1.4" height="1.4" fill="#d8d8d8"/><rect x="163.30" y="415.80" width="1.4" height="1.4" fill="#d8d8d8"/><rect x="167.30" y="415.80" width="1.4" height="1.4" fill="#d8d8d8"/><rect x="171.30" y="415.80" width="1.4" height="1.4" fill="#d8d8d8"/><rect x="175.30" y="415.80" width="1.4" height="1.4" fill="#d8d8d8"/><rect x="179.30" y="415.80" width="1.4" height="1.4" fill="#d8d8d8"/><rect x="183.30" y="415.80" width="1.4" height="1.4" fill="#d8d8d8"/><rect x="187.30" y="415.80" width="1.4" height="1.4" fill="#d8d8d8"/><rect x="191.30" y="415.80" width="1.4" height="1.4" fill="#d8d8d8"/><rect x="195.30" y="415.80" width="1.4" height="1.4" fill="#d8d8d8"/><rect x="199.30" y="415.80" width="1.4" height="1.4" fill="#d8d8d8"/><rect x="203.30" y="415.80" width="1.4" height="1.4" fill="#d8d8d8"/><rect x="207.30" y="415.80" width="1.4" height="1.4" fill="#d8d8d8"/><rect x="211.30" y="415.80" width="1.4" height="1.4" fill="#d8d8d8"/><rect x="215.30" y="415.80" width="1.4" height="1.4" fill="#d8d8d8"/><rect x="219.30" y="415.80" width="1.4" height="1.4" fill="#d8d8d8"/><rect x="223.30" y="415.80" width="1.4" height="1.4" fill="#d8d8d8"/><rect x="227.30" y="415.80" width="1.4" height="1.4" fill="#d8d8d8"/><rect x="231.30" y="415.80" width="1.4" height="1.4" fill="#d8d8d8"/><rect x="235.30" y="415.80" width="1.4" height="1.4" fill="#d8d8d8"/><rect x="239.30" y="415.80" width="1.4" height="1.4" fill="#d8d8d8"/><rect x="243.30" y="415.80" width="1.4" height="1.4" fill="#d8d8d8"/><rect x="247.30" y="415.80" width="1.4" height="1.4" fill="#d8d8d8"/><rect x="251.30" y="415.80" width="1.4" height="1.4" fill="#d8d8d8"/><rect x="255.30" y="415.80" width="1.4" height="1.4" fill="#d8d8d8"/><rect x="259.30" y="415.80" width="1.4" height="1.4" fill="#d8d8d8"/><rect x="263.30" y="415.80" width="1.4" height="1.4" fill="#d8d8d8"/><rect x="267.30" y="415.80" width="1.4" height="1.4" fill="#d8d8d8"/><rect x="271.30" y="415.80" width="1.4" height="1.4" fill="#d8d8d8"/><rect x="275.30" y="415.80" width="1.4" height="1.4" fill="#d8d8d8"/><rect x="279.30" y="415.80" width="1.4" height="1.4" fill="#d8d8d8"/><rect x="283.30" y="415.80" width="1.4" height="1.4" fill="#d8d8d8"/><rect x="287.30" y="415.80" width="1.4" height="1.4" fill="#d8d8d8"/><rect x="291.30" y="415.80" width="1.4" height="1.4" fill="#d8d8d8"/><rect x="295.30" y="415.80" width="1.4" height="1.4" fill="#d8d8d8"/><rect x="299.30" y="415.80" width="1.4" height="1.4" fill="#d8d8d8"/><rect x="303.30" y="415.80" width="1.4" height="1.4" fill="#d8d8d8"/><rect x="307.30" y="415.80" width="1.4" height="1.4" fill="#d8d8d8"/><rect x="311.30" y="415.80" width="1.4" height="1.4" fill="#d8d8d8"/><rect x="315.30" y="415.80" width="1.4" height="1.4" fill="#d8d8d8"/><rect x="319.30" y="415.80" width="1.4" height="1.4" fill="#d8d8d8"/><rect x="323.30" y="415.80" width="1.4" height="1.4" fill="#d8d8d8"/><rect x="327.30" y="415.80" width="1.4" height="1.4" fill="#d8d8d8"/><rect x="331.30" y="415.80" width="1.4" height="1.4" fill="#d8d8d8"/><rect x="335.30" y="415.80" width="1.4" height="1.4" fill="#d8d8d8"/><rect x="339.30" y="415.80" width="1.4" height="1.4" fill="#d8d8d8"/><rect x="343.30" y="415.80" width="1.4" height="1.4" fill="#d8d8d8"/><rect x="347.30" y="415.80" width="1.4" height="1.4" fill="#d8d8d8"/><rect x="351.30" y="415.80" width="1.4" height="1.4" fill="#d8d8d8"/><rect x="355.30" y="415.80" width="1.4" height="1.4" fill="#d8d8d8"/><rect x="359.30" y="415.80" width="1.4" height="1.4" fill="#d8d8d8"/><rect x="363.30" y="415.80" width="1.4" height="1.4" fill="#d8d8d8"/><rect x="367.30" y="415.80" width="1.4" height="1.4" fill="#d8d8d8"/><rect x="371.30" y="415.80" width="1.4" height="1.4" fill="#d8d8d8"/><rect x="375.30" y="415.80" width="1.4" height="1.4" fill="#d8d8d8"/><rect x="379.30" y="415.80" width="1.4" height="1.4" fill="#d8d8d8"/><rect x="383.30" y="415.80" width="1.4" height="1.4" fill="#d8d8d8"/><rect x="387.30" y="415.80" width="1.4" height="1.4" fill="#d8d8d8"/><rect x="391.30" y="415.80" width="1.4" height="1.4" fill="#d8d8d8"/><rect x="395.30" y="415.80" width="1.4" height="1.4" fill="#d8d8d8"/><rect x="399.30" y="415.80" width="1.4" height="1.4" fill="#d8d8d8"/><rect x="403.30" y="415.80" width="1.4" height="1.4" fill="#d8d8d8"/><rect x="407.30" y="415.80" width="1.4" height="1.4" fill="#d8d8d8"/><rect x="411.30" y="415.80" width="1.4" height="1.4" fill="#d8d8d8"/><rect x="415.30" y="415.80" width="1.4" height="1.4" fill="#d8d8d8"/><rect x="419.30" y="415.80" width="1.4" height="1.4" fill="#d8d8d8"/><rect x="423.30" y="415.80" width="1.4" height="1.4" fill="#d8d8d8"/><rect x="427.30" y="415.80" width="1.4" height="1.4" fill="#d8d8d8"/><rect x="431.30" y="415.80" width="1.4" height="1.4" fill="#d8d8d8"/><rect x="435.30" y="415.80" width="1.4" height="1.4" fill="#d8d8d8"/><rect x="439.30" y="415.80" width="1.4" height="1.4" fill="#d8d8d8"/><rect x="443.30" y="415.80" width="1.4" height="1.4" fill="#d8d8d8"/><rect x="447.30" y="415.80" width="1.4" height="1.4" fill="#d8d8d8"/><rect x="451.30" y="415.80" width="1.4" height="1.4" fill="#d8d8d8"/><rect x="455.30" y="415.80" width="1.4" height="1.4" fill="#d8d8d8"/><rect x="459.30" y="415.80" width="1.4" height="1.4" fill="#d8d8d8"/><rect x="463.30" y="415.80" width="1.4" height="1.4" fill="#d8d8d8"/><rect x="467.30" y="415.80" width="1.4" height="1.4" fill="#d8d8d8"/><rect x="471.30" y="415.80" width="1.4" height="1.4" fill="#d8d8d8"/><rect x="475.30" y="415.80" width="1.4" height="1.4" fill="#d8d8d8"/><rect x="479.30" y="415.80" width="1.4" height="1.4" fill="#d8d8d8"/><rect x="483.30" y="415.80" width="1.4" height="1.4" fill="#d8d8d8"/><rect x="487.30" y="415.80" width="1.4" height="1.4" fill="#d8d8d8"/><rect x="491.30" y="415.80" width="1.4" height="1.4" fill="#d8d8d8"/><rect x="495.30" y="415.80" width="1.4" height="1.4" fill="#d8d8d8"/><rect x="499.30" y="415.80" width="1.4" height="1.4" fill="#d8d8d8"/><rect x="503.30" y="415.80" width="1.4" height="1.4" fill="#d8d8d8"/><rect x="507.30" y="415.80" width="1.4" height="1.4" fill="#d8d8d8"/><rect x="511.30" y="415.80" width="1.4" height="1.4" fill="#d8d8d8"/><rect x="515.30" y="415.80" width="1.4" height="1.4" fill="#d8d8d8"/><rect x="519.30" y="415.80" width="1.4" height="1.4" fill="#d8d8d8"/><rect x="523.30" y="415.80" width="1.4" height="1.4" fill="#d8d8d8"/><rect x="527.30" y="415.80" width="1.4" height="1.4" fill="#d8d8d8"/><rect x="531.30" y="415.80" width="1.4" height="1.4" fill="#d8d8d8"/><rect x="535.30" y="415.80" width="1.4" height="1.4" fill="#d8d8d8"/><rect x="539.30" y="415.80" width="1.4" height="1.4" fill="#d8d8d8"/><rect x="543.30" y="415.80" width="1.4" height="1.4" fill="#d8d8d8"/><rect x="547.30" y="415.80" width="1.4" height="1.4" fill="#d8d8d8"/><rect x="551.30" y="415.80" width="1.4" height="1.4" fill="#d8d8d8"/><rect x="555.30" y="415.80" width="1.4" height="1.4" fill="#d8d8d8"/><rect x="559.30" y="415.80" width="1.4" height="1.4" fill="#d8d8d8"/><rect x="563.30" y="415.80" width="1.4" height="1.4" fill="#d8d8d8"/><rect x="567.30" y="415.80" width="1.4" height="1.4" fill="#d8d8d8"/><rect x="571.30" y="415.80" width="1.4" height="1.4" fill="#d8d8d8"/><rect x="575.30" y="415.80" width="1.4" height="1.4" fill="#d8d8d8"/><rect x="579.30" y="415.80" width="1.4" height="1.4" fill="#d8d8d8"/>
<rect x="35.30" y="432.80" width="1.4" height="1.4" fill="#d8d8d8"/><rect x="39.30" y="432.80" width="1.4" height="1.4" fill="#d8d8d8"/><rect x="43.30" y="432.80" width="1.4" height="1.4" fill="#d8d8d8"/><rect x="47.30" y="432.80" width="1.4" height="1.4" fill="#d8d8d8"/><rect x="51.30" y="432.80" width="1.4" height="1.4" fill="#d8d8d8"/><rect x="55.30" y="432.80" width="1.4" height="1.4" fill="#d8d8d8"/><rect x="59.30" y="432.80" width="1.4" height="1.4" fill="#d8d8d8"/><rect x="63.30" y="432.80" width="1.4" height="1.4" fill="#d8d8d8"/><rect x="67.30" y="432.80" width="1.4" height="1.4" fill="#d8d8d8"/><rect x="71.30" y="432.80" width="1.4" height="1.4" fill="#d8d8d8"/><rect x="75.30" y="432.80" width="1.4" height="1.4" fill="#d8d8d8"/><rect x="79.30" y="432.80" width="1.4" height="1.4" fill="#d8d8d8"/><rect x="83.30" y="432.80" width="1.4" height="1.4" fill="#d8d8d8"/><rect x="87.30" y="432.80" width="1.4" height="1.4" fill="#d8d8d8"/><rect x="91.30" y="432.80" width="1.4" height="1.4" fill="#d8d8d8"/><rect x="95.30" y="432.80" width="1.4" height="1.4" fill="#d8d8d8"/><rect x="99.30" y="432.80" width="1.4" height="1.4" fill="#d8d8d8"/><rect x="103.30" y="432.80" width="1.4" height="1.4" fill="#d8d8d8"/><rect x="107.30" y="432.80" width="1.4" height="1.4" fill="#d8d8d8"/><rect x="111.30" y="432.80" width="1.4" height="1.4" fill="#d8d8d8"/><rect x="115.30" y="432.80" width="1.4" height="1.4" fill="#d8d8d8"/><rect x="119.30" y="432.80" width="1.4" height="1.4" fill="#d8d8d8"/><rect x="123.30" y="432.80" width="1.4" height="1.4" fill="#d8d8d8"/><rect x="127.30" y="432.80" width="1.4" height="1.4" fill="#d8d8d8"/><rect x="131.30" y="432.80" width="1.4" height="1.4" fill="#d8d8d8"/><rect x="135.30" y="432.80" width="1.4" height="1.4" fill="#d8d8d8"/><rect x="139.30" y="432.80" width="1.4" height="1.4" fill="#d8d8d8"/><rect x="143.30" y="432.80" width="1.4" height="1.4" fill="#d8d8d8"/><rect x="147.30" y="432.80" width="1.4" height="1.4" fill="#d8d8d8"/><rect x="151.30" y="432.80" width="1.4" height="1.4" fill="#d8d8d8"/><rect x="155.30" y="432.80" width="1.4" height="1.4" fill="#d8d8d8"/><rect x="159.30" y="432.80" width="1.4" height="1.4" fill="#d8d8d8"/><rect x="163.30" y="432.80" width="1.4" height="1.4" fill="#d8d8d8"/><rect x="167.30" y="432.80" width="1.4" height="1.4" fill="#d8d8d8"/><rect x="171.30" y="432.80" width="1.4" height="1.4" fill="#d8d8d8"/><rect x="175.30" y="432.80" width="1.4" height="1.4" fill="#d8d8d8"/><rect x="179.30" y="432.80" width="1.4" height="1.4" fill="#d8d8d8"/><rect x="183.30" y="432.80" width="1.4" height="1.4" fill="#d8d8d8"/><rect x="187.30" y="432.80" width="1.4" height="1.4" fill="#d8d8d8"/><rect x="191.30" y="432.80" width="1.4" height="1.4" fill="#d8d8d8"/><rect x="195.30" y="432.80" width="1.4" height="1.4" fill="#d8d8d8"/><rect x="199.30" y="432.80" width="1.4" height="1.4" fill="#d8d8d8"/><rect x="203.30" y="432.80" width="1.4" height="1.4" fill="#d8d8d8"/><rect x="207.30" y="432.80" width="1.4" height="1.4" fill="#d8d8d8"/><rect x="211.30" y="432.80" width="1.4" height="1.4" fill="#d8d8d8"/><rect x="215.30" y="432.80" width="1.4" height="1.4" fill="#d8d8d8"/><rect x="219.30" y="432.80" width="1.4" height="1.4" fill="#d8d8d8"/><rect x="223.30" y="432.80" width="1.4" height="1.4" fill="#d8d8d8"/><rect x="227.30" y="432.80" width="1.4" height="1.4" fill="#d8d8d8"/><rect x="231.30" y="432.80" width="1.4" height="1.4" fill="#d8d8d8"/><rect x="235.30" y="432.80" width="1.4" height="1.4" fill="#d8d8d8"/><rect x="239.30" y="432.80" width="1.4" height="1.4" fill="#d8d8d8"/><rect x="243.30" y="432.80" width="1.4" height="1.4" fill="#d8d8d8"/><rect x="247.30" y="432.80" width="1.4" height="1.4" fill="#d8d8d8"/><rect x="251.30" y="432.80" width="1.4" height="1.4" fill="#d8d8d8"/><rect x="255.30" y="432.80" width="1.4" height="1.4" fill="#d8d8d8"/><rect x="259.30" y="432.80" width="1.4" height="1.4" fill="#d8d8d8"/><rect x="263.30" y="432.80" width="1.4" height="1.4" fill="#d8d8d8"/><rect x="267.30" y="432.80" width="1.4" height="1.4" fill="#d8d8d8"/><rect x="271.30" y="432.80" width="1.4" height="1.4" fill="#d8d8d8"/><rect x="275.30" y="432.80" width="1.4" height="1.4" fill="#d8d8d8"/><rect x="279.30" y="432.80" width="1.4" height="1.4" fill="#d8d8d8"/><rect x="283.30" y="432.80" width="1.4" height="1.4" fill="#d8d8d8"/><rect x="287.30" y="432.80" width="1.4" height="1.4" fill="#d8d8d8"/><rect x="291.30" y="432.80" width="1.4" height="1.4" fill="#d8d8d8"/><rect x="295.30" y="432.80" width="1.4" height="1.4" fill="#d8d8d8"/><rect x="299.30" y="432.80" width="1.4" height="1.4" fill="#d8d8d8"/><rect x="303.30" y="432.80" width="1.4" height="1.4" fill="#d8d8d8"/><rect x="307.30" y="432.80" width="1.4" height="1.4" fill="#d8d8d8"/><rect x="311.30" y="432.80" width="1.4" height="1.4" fill="#d8d8d8"/><rect x="315.30" y="432.80" width="1.4" height="1.4" fill="#d8d8d8"/><rect x="319.30" y="432.80" width="1.4" height="1.4" fill="#d8d8d8"/><rect x="323.30" y="432.80" width="1.4" height="1.4" fill="#d8d8d8"/><rect x="327.30" y="432.80" width="1.4" height="1.4" fill="#d8d8d8"/><rect x="331.30" y="432.80" width="1.4" height="1.4" fill="#d8d8d8"/><rect x="335.30" y="432.80" width="1.4" height="1.4" fill="#d8d8d8"/><rect x="339.30" y="432.80" width="1.4" height="1.4" fill="#d8d8d8"/><rect x="343.30" y="432.80" width="1.4" height="1.4" fill="#d8d8d8"/><rect x="347.30" y="432.80" width="1.4" height="1.4" fill="#d8d8d8"/><rect x="351.30" y="432.80" width="1.4" height="1.4" fill="#d8d8d8"/><rect x="355.30" y="432.80" width="1.4" height="1.4" fill="#d8d8d8"/><rect x="359.30" y="432.80" width="1.4" height="1.4" fill="#d8d8d8"/><rect x="363.30" y="432.80" width="1.4" height="1.4" fill="#d8d8d8"/><rect x="367.30" y="432.80" width="1.4" height="1.4" fill="#d8d8d8"/><rect x="371.30" y="432.80" width="1.4" height="1.4" fill="#d8d8d8"/><rect x="375.30" y="432.80" width="1.4" height="1.4" fill="#d8d8d8"/><rect x="379.30" y="432.80" width="1.4" height="1.4" fill="#d8d8d8"/><rect x="383.30" y="432.80" width="1.4" height="1.4" fill="#d8d8d8"/><rect x="387.30" y="432.80" width="1.4" height="1.4" fill="#d8d8d8"/><rect x="391.30" y="432.80" width="1.4" height="1.4" fill="#d8d8d8"/><rect x="395.30" y="432.80" width="1.4" height="1.4" fill="#d8d8d8"/><rect x="399.30" y="432.80" width="1.4" height="1.4" fill="#d8d8d8"/><rect x="403.30" y="432.80" width="1.4" height="1.4" fill="#d8d8d8"/><rect x="407.30" y="432.80" width="1.4" height="1.4" fill="#d8d8d8"/><rect x="411.30" y="432.80" width="1.4" height="1.4" fill="#d8d8d8"/><rect x="415.30" y="432.80" width="1.4" height="1.4" fill="#d8d8d8"/><rect x="419.30" y="432.80" width="1.4" height="1.4" fill="#d8d8d8"/><rect x="423.30" y="432.80" width="1.4" height="1.4" fill="#d8d8d8"/><rect x="427.30" y="432.80" width="1.4" height="1.4" fill="#d8d8d8"/><rect x="431.30" y="432.80" width="1.4" height="1.4" fill="#d8d8d8"/><rect x="435.30" y="432.80" width="1.4" height="1.4" fill="#d8d8d8"/><rect x="439.30" y="432.80" width="1.4" height="1.4" fill="#d8d8d8"/><rect x="443.30" y="432.80" width="1.4" height="1.4" fill="#d8d8d8"/><rect x="447.30" y="432.80" width="1.4" height="1.4" fill="#d8d8d8"/><rect x="451.30" y="432.80" width="1.4" height="1.4" fill="#d8d8d8"/><rect x="455.30" y="432.80" width="1.4" height="1.4" fill="#d8d8d8"/><rect x="459.30" y="432.80" width="1.4" height="1.4" fill="#d8d8d8"/><rect x="463.30" y="432.80" width="1.4" height="1.4" fill="#d8d8d8"/><rect x="467.30" y="432.80" width="1.4" height="1.4" fill="#d8d8d8"/><rect x="471.30" y="432.80" width="1.4" height="1.4" fill="#d8d8d8"/><rect x="475.30" y="432.80" width="1.4" height="1.4" fill="#d8d8d8"/><rect x="479.30" y="432.80" width="1.4" height="1.4" fill="#d8d8d8"/><rect x="483.30" y="432.80" width="1.4" height="1.4" fill="#d8d8d8"/><rect x="487.30" y="432.80" width="1.4" height="1.4" fill="#d8d8d8"/><rect x="491.30" y="432.80" width="1.4" height="1.4" fill="#d8d8d8"/><rect x="495.30" y="432.80" width="1.4" height="1.4" fill="#d8d8d8"/><rect x="499.30" y="432.80" width="1.4" height="1.4" fill="#d8d8d8"/><rect x="503.30" y="432.80" width="1.4" height="1.4" fill="#d8d8d8"/><rect x="507.30" y="432.80" width="1.4" height="1.4" fill="#d8d8d8"/><rect x="511.30" y="432.80" width="1.4" height="1.4" fill="#d8d8d8"/><rect x="515.30" y="432.80" width="1.4" height="1.4" fill="#d8d8d8"/><rect x="519.30" y="432.80" width="1.4" height="1.4" fill="#d8d8d8"/><rect x="523.30" y="432.80" width="1.4" height="1.4" fill="#d8d8d8"/><rect x="527.30" y="432.80" width="1.4" height="1.4" fill="#d8d8d8"/><rect x="531.30" y="432.80" width="1.4" height="1.4" fill="#d8d8d8"/><rect x="535.30" y="432.80" width="1.4" height="1.4" fill="#d8d8d8"/><rect x="539.30" y="432.80" width="1.4" height="1.4" fill="#d8d8d8"/><rect x="543.30" y="432.80" width="1.4" height="1.4" fill="#d8d8d8"/><rect x="547.30" y="432.80" width="1.4" height="1.4" fill="#d8d8d8"/><rect x="551.30" y="432.80" width="1.4" height="1.4" fill="#d8d8d8"/><rect x="555.30" y="432.80" width="1.4" height="1.4" fill="#d8d8d8"/><rect x="559.30" y="432.80" width="1.4" height="1.4" fill="#d8d8d8"/><rect x="563.30" y="432.80" width="1.4" height="1.4" fill="#d8d8d8"/><rect x="567.30" y="432.80" width="1.4" height="1.4" fill="#d8d8d8"/><rect x="571.30" y="432.80" width="1.4" height="1.4" fill="#d8d8d8"/><rect x="575.30" y="432.80" width="1.4" height="1.4" fill="#d8d8d8"/><rect x="579.30" y="432.80" width="1.4" height="1.4" fill="#d8d8d8"/>
<rect x="35.30" y="450.30" width="1.4" height="1.4" fill="#d8d8d8"/><rect x="39.30" y="450.30" width="1.4" height="1.4" fill="#d8d8d8"/><rect x="43.30" y="450.30" width="1.4" height="1.4" fill="#d8d8d8"/><rect x="47.30" y="450.30" width="1.4" height="1.4" fill="#d8d8d8"/><rect x="51.30" y="450.30" width="1.4" height="1.4" fill="#d8d8d8"/><rect x="55.30" y="450.30" width="1.4" height="1.4" fill="#d8d8d8"/><rect x="59.30" y="450.30" width="1.4" height="1.4" fill="#d8d8d8"/><rect x="63.30" y="450.30" width="1.4" height="1.4" fill="#d8d8d8"/><rect x="67.30" y="450.30" width="1.4" height="1.4" fill="#d8d8d8"/><rect x="71.30" y="450.30" width="1.4" height="1.4" fill="#d8d8d8"/><rect x="75.30" y="450.30" width="1.4" height="1.4" fill="#d8d8d8"/><rect x="79.30" y="450.30" width="1.4" height="1.4" fill="#d8d8d8"/><rect x="83.30" y="450.30" width="1.4" height="1.4" fill="#d8d8d8"/><rect x="87.30" y="450.30" width="1.4" height="1.4" fill="#d8d8d8"/><rect x="91.30" y="450.30" width="1.4" height="1.4" fill="#d8d8d8"/><rect x="95.30" y="450.30" width="1.4" height="1.4" fill="#d8d8d8"/><rect x="99.30" y="450.30" width="1.4" height="1.4" fill="#d8d8d8"/><rect x="103.30" y="450.30" width="1.4" height="1.4" fill="#d8d8d8"/><rect x="107.30" y="450.30" width="1.4" height="1.4" fill="#d8d8d8"/><rect x="111.30" y="450.30" width="1.4" height="1.4" fill="#d8d8d8"/><rect x="115.30" y="450.30" width="1.4" height="1.4" fill="#d8d8d8"/><rect x="119.30" y="450.30" width="1.4" height="1.4" fill="#d8d8d8"/><rect x="123.30" y="450.30" width="1.4" height="1.4" fill="#d8d8d8"/><rect x="127.30" y="450.30" width="1.4" height="1.4" fill="#d8d8d8"/><rect x="131.30" y="450.30" width="1.4" height="1.4" fill="#d8d8d8"/><rect x="135.30" y="450.30" width="1.4" height="1.4" fill="#d8d8d8"/><rect x="139.30" y="450.30" width="1.4" height="1.4" fill="#d8d8d8"/><rect x="143.30" y="450.30" width="1.4" height="1.4" fill="#d8d8d8"/><rect x="147.30" y="450.30" width="1.4" height="1.4" fill="#d8d8d8"/><rect x="151.30" y="450.30" width="1.4" height="1.4" fill="#d8d8d8"/><rect x="155.30" y="450.30" width="1.4" height="1.4" fill="#d8d8d8"/><rect x="159.30" y="450.30" width="1.4" height="1.4" fill="#d8d8d8"/><rect x="163.30" y="450.30" width="1.4" height="1.4" fill="#d8d8d8"/><rect x="167.30" y="450.30" width="1.4" height="1.4" fill="#d8d8d8"/><rect x="171.30" y="450.30" width="1.4" height="1.4" fill="#d8d8d8"/><rect x="175.30" y="450.30" width="1.4" height="1.4" fill="#d8d8d8"/><rect x="179.30" y="450.30" width="1.4" height="1.4" fill="#d8d8d8"/><rect x="183.30" y="450.30" width="1.4" height="1.4" fill="#d8d8d8"/><rect x="187.30" y="450.30" width="1.4" height="1.4" fill="#d8d8d8"/><rect x="191.30" y="450.30" width="1.4" height="1.4" fill="#d8d8d8"/><rect x="195.30" y="450.30" width="1.4" height="1.4" fill="#d8d8d8"/><rect x="199.30" y="450.30" width="1.4" height="1.4" fill="#d8d8d8"/><rect x="203.30" y="450.30" width="1.4" height="1.4" fill="#d8d8d8"/><rect x="207.30" y="450.30" width="1.4" height="1.4" fill="#d8d8d8"/><rect x="211.30" y="450.30" width="1.4" height="1.4" fill="#d8d8d8"/><rect x="215.30" y="450.30" width="1.4" height="1.4" fill="#d8d8d8"/><rect x="219.30" y="450.30" width="1.4" height="1.4" fill="#d8d8d8"/><rect x="223.30" y="450.30" width="1.4" height="1.4" fill="#d8d8d8"/><rect x="227.30" y="450.30" width="1.4" height="1.4" fill="#d8d8d8"/><rect x="231.30" y="450.30" width="1.4" height="1.4" fill="#d8d8d8"/><rect x="235.30" y="450.30" width="1.4" height="1.4" fill="#d8d8d8"/><rect x="239.30" y="450.30" width="1.4" height="1.4" fill="#d8d8d8"/><rect x="243.30" y="450.30" width="1.4" height="1.4" fill="#d8d8d8"/><rect x="247.30" y="450.30" width="1.4" height="1.4" fill="#d8d8d8"/><rect x="251.30" y="450.30" width="1.4" height="1.4" fill="#d8d8d8"/><rect x="255.30" y="450.30" width="1.4" height="1.4" fill="#d8d8d8"/><rect x="259.30" y="450.30" width="1.4" height="1.4" fill="#d8d8d8"/><rect x="263.30" y="450.30" width="1.4" height="1.4" fill="#d8d8d8"/><rect x="267.30" y="450.30" width="1.4" height="1.4" fill="#d8d8d8"/><rect x="271.30" y="450.30" width="1.4" height="1.4" fill="#d8d8d8"/><rect x="275.30" y="450.30" width="1.4" height="1.4" fill="#d8d8d8"/><rect x="279.30" y="450.30" width="1.4" height="1.4" fill="#d8d8d8"/><rect x="283.30" y="450.30" width="1.4" height="1.4" fill="#d8d8d8"/><rect x="287.30" y="450.30" width="1.4" height="1.4" fill="#d8d8d8"/><rect x="291.30" y="450.30" width="1.4" height="1.4" fill="#d8d8d8"/><rect x="295.30" y="450.30" width="1.4" height="1.4" fill="#d8d8d8"/><rect x="299.30" y="450.30" width="1.4" height="1.4" fill="#d8d8d8"/><rect x="303.30" y="450.30" width="1.4" height="1.4" fill="#d8d8d8"/><rect x="307.30" y="450.30" width="1.4" height="1.4" fill="#d8d8d8"/><rect x="311.30" y="450.30" width="1.4" height="1.4" fill="#d8d8d8"/><rect x="315.30" y="450.30" width="1.4" height="1.4" fill="#d8d8d8"/><rect x="319.30" y="450.30" width="1.4" height="1.4" fill="#d8d8d8"/><rect x="323.30" y="450.30" width="1.4" height="1.4" fill="#d8d8d8"/><rect x="327.30" y="450.30" width="1.4" height="1.4" fill="#d8d8d8"/><rect x="331.30" y="450.30" width="1.4" height="1.4" fill="#d8d8d8"/><rect x="335.30" y="450.30" width="1.4" height="1.4" fill="#d8d8d8"/><rect x="339.30" y="450.30" width="1.4" height="1.4" fill="#d8d8d8"/><rect x="343.30" y="450.30" width="1.4" height="1.4" fill="#d8d8d8"/><rect x="347.30" y="450.30" width="1.4" height="1.4" fill="#d8d8d8"/><rect x="351.30" y="450.30" width="1.4" height="1.4" fill="#d8d8d8"/><rect x="355.30" y="450.30" width="1.4" height="1.4" fill="#d8d8d8"/><rect x="359.30" y="450.30" width="1.4" height="1.4" fill="#d8d8d8"/><rect x="363.30" y="450.30" width="1.4" height="1.4" fill="#d8d8d8"/><rect x="367.30" y="450.30" width="1.4" height="1.4" fill="#d8d8d8"/><rect x="371.30" y="450.30" width="1.4" height="1.4" fill="#d8d8d8"/><rect x="375.30" y="450.30" width="1.4" height="1.4" fill="#d8d8d8"/><rect x="379.30" y="450.30" width="1.4" height="1.4" fill="#d8d8d8"/><rect x="383.30" y="450.30" width="1.4" height="1.4" fill="#d8d8d8"/><rect x="387.30" y="450.30" width="1.4" height="1.4" fill="#d8d8d8"/><rect x="391.30" y="450.30" width="1.4" height="1.4" fill="#d8d8d8"/><rect x="395.30" y="450.30" width="1.4" height="1.4" fill="#d8d8d8"/><rect x="399.30" y="450.30" width="1.4" height="1.4" fill="#d8d8d8"/><rect x="403.30" y="450.30" width="1.4" height="1.4" fill="#d8d8d8"/><rect x="407.30" y="450.30" width="1.4" height="1.4" fill="#d8d8d8"/><rect x="411.30" y="450.30" width="1.4" height="1.4" fill="#d8d8d8"/><rect x="415.30" y="450.30" width="1.4" height="1.4" fill="#d8d8d8"/><rect x="419.30" y="450.30" width="1.4" height="1.4" fill="#d8d8d8"/><rect x="423.30" y="450.30" width="1.4" height="1.4" fill="#d8d8d8"/><rect x="427.30" y="450.30" width="1.4" height="1.4" fill="#d8d8d8"/><rect x="431.30" y="450.30" width="1.4" height="1.4" fill="#d8d8d8"/><rect x="435.30" y="450.30" width="1.4" height="1.4" fill="#d8d8d8"/><rect x="439.30" y="450.30" width="1.4" height="1.4" fill="#d8d8d8"/><rect x="443.30" y="450.30" width="1.4" height="1.4" fill="#d8d8d8"/><rect x="447.30" y="450.30" width="1.4" height="1.4" fill="#d8d8d8"/><rect x="451.30" y="450.30" width="1.4" height="1.4" fill="#d8d8d8"/><rect x="455.30" y="450.30" width="1.4" height="1.4" fill="#d8d8d8"/><rect x="459.30" y="450.30" width="1.4" height="1.4" fill="#d8d8d8"/><rect x="463.30" y="450.30" width="1.4" height="1.4" fill="#d8d8d8"/><rect x="467.30" y="450.30" width="1.4" height="1.4" fill="#d8d8d8"/><rect x="471.30" y="450.30" width="1.4" height="1.4" fill="#d8d8d8"/><rect x="475.30" y="450.30" width="1.4" height="1.4" fill="#d8d8d8"/><rect x="479.30" y="450.30" width="1.4" height="1.4" fill="#d8d8d8"/><rect x="483.30" y="450.30" width="1.4" height="1.4" fill="#d8d8d8"/><rect x="487.30" y="450.30" width="1.4" height="1.4" fill="#d8d8d8"/><rect x="491.30" y="450.30" width="1.4" height="1.4" fill="#d8d8d8"/><rect x="495.30" y="450.30" width="1.4" height="1.4" fill="#d8d8d8"/><rect x="499.30" y="450.30" width="1.4" height="1.4" fill="#d8d8d8"/><rect x="503.30" y="450.30" width="1.4" height="1.4" fill="#d8d8d8"/><rect x="507.30" y="450.30" width="1.4" height="1.4" fill="#d8d8d8"/><rect x="511.30" y="450.30" width="1.4" height="1.4" fill="#d8d8d8"/><rect x="515.30" y="450.30" width="1.4" height="1.4" fill="#d8d8d8"/><rect x="519.30" y="450.30" width="1.4" height="1.4" fill="#d8d8d8"/><rect x="523.30" y="450.30" width="1.4" height="1.4" fill="#d8d8d8"/><rect x="527.30" y="450.30" width="1.4" height="1.4" fill="#d8d8d8"/><rect x="531.30" y="450.30" width="1.4" height="1.4" fill="#d8d8d8"/><rect x="535.30" y="450.30" width="1.4" height="1.4" fill="#d8d8d8"/><rect x="539.30" y="450.30" width="1.4" height="1.4" fill="#d8d8d8"/><rect x="543.30" y="450.30" width="1.4" height="1.4" fill="#d8d8d8"/><rect x="547.30" y="450.30" width="1.4" height="1.4" fill="#d8d8d8"/><rect x="551.30" y="450.30" width="1.4" height="1.4" fill="#d8d8d8"/><rect x="555.30" y="450.30" width="1.4" height="1.4" fill="#d8d8d8"/><rect x="559.30" y="450.30" width="1.4" height="1.4" fill="#d8d8d8"/><rect x="563.30" y="450.30" width="1.4" height="1.4" fill="#d8d8d8"/><rect x="567.30" y="450.30" width="1.4" height="1.4" fill="#d8d8d8"/><rect x="571.30" y="450.30" width="1.4" height="1.4" fill="#d8d8d8"/><rect x="575.30" y="450.30" width="1.4" height="1.4" fill="#d8d8d8"/><rect x="579.30" y="450.30" width="1.4" height="1.4" fill="#d8d8d8"/>
<rect x="530.30" y="440.60" width="1.4" height="1.4" fill="#9db2e6"/><rect x="534.65" y="440.60" width="1.4" height="1.4" fill="#9db2e6"/><rect x="539.00" y="440.60" width="1.4" height="1.4" fill="#9db2e6"/><rect x="543.35" y="440.60" width="1.4" height="1.4" fill="#9db2e6"/><rect x="547.70" y="440.60" width="1.4" height="1.4" fill="#9db2e6"/><rect x="552.05" y="440.60" width="1.4" height="1.4" fill="#9db2e6"/><rect x="556.40" y="440.60" width="1.4" height="1.4" fill="#9db2e6"/><rect x="560.75" y="440.60" width="1.4" height="1.4" fill="#9db2e6"/><rect x="565.10" y="440.60" width="1.4" height="1.4" fill="#9db2e6"/><rect x="569.45" y="440.60" width="1.4" height="1.4" fill="#9db2e6"/><rect x="573.80" y="440.60" width="1.4" height="1.4" fill="#9db2e6"/><rect x="578.15" y="440.60" width="1.4" height="1.4" fill="#9db2e6"/>
<path d="M39.9,432.2 L44.3,428.3 L49.6,425.7 L54.8,429.0 L60.0,427.5 L65.2,423.8 L70.4,422.3 L75.7,424.9 L80.9,423.8 L86.1,421.7 L92.1,419.7 L96.5,424.4 L101.7,417.0 L107.0,419.1 L113.0,430.1 L117.4,423.0 L122.6,420.4 L127.8,421.7 L133.1,422.3 L138.3,423.0 L143.5,430.9 L148.7,432.7 L154.7,433.5 L159.7,438.7 L164.4,432.2 L169.6,432.2 L174.8,433.5 L180.0,436.1 L186.5,443.9 L191.8,447.8 L197.0,449.1 L200.0,448.4 L205.2,443.9 L210.4,442.1 L215.7,443.9 L222.2,447.3 L227.4,445.2 L232.6,445.7 L237.8,449.9 L243.0,449.1 L249.6,450.4 L254.8,450.4 L260.0,449.1 L265.2,448.4 L270.4,449.9 L275.7,446.5 L280.9,442.6 L286.1,445.7 L291.3,445.2 L296.5,441.3 L301.7,437.4 L307.0,438.7 L312.2,439.5 L317.4,442.6 L322.6,439.5 L327.8,438.7 L333.1,439.5 L338.3,436.1 L343.5,434.8 L348.2,432.2 L351.3,438.7 L356.5,445.2 L360.4,450.4 L364.4,455.7 L369.1,457.0 L373.9,451.7 L379.1,451.7 L384.3,450.4 L389.6,451.7 L395.6,464.8 L400.8,466.1 L406.0,469.2 L411.2,465.6 L416.4,457.7 L421.7,457.0 L426.9,459.6 L432.1,460.9 L437.3,455.7 L442.5,454.4 L447.7,449.1 L453.0,443.4 L458.2,449.1 L463.4,447.3 L468.6,442.6 L473.8,443.1 L479.1,436.9 L484.3,441.3 L489.5,440.5 L494.7,439.5 L499.9,439.5 L505.1,440.0 L510.4,439.5 L515.6,439.0 L521.3,440.5 L526.5,441.6" fill="none" stroke="#9fb4ea" stroke-width="1.1" stroke-linejoin="round"/>
<path d="M39.9,430.9 C42.6,430.9 51.2,431.3 56.1,430.9 C61.0,430.4 64.8,429.1 69.1,428.3 C73.5,427.4 77.8,426.4 82.2,425.7 C86.5,424.9 90.9,424.2 95.2,423.6 C99.6,422.9 103.9,422.1 108.3,421.7 C112.6,421.4 117.0,421.2 121.3,421.2 C125.7,421.2 130.9,421.5 134.4,421.7 C137.8,422.0 139.1,421.9 142.2,422.5 C145.2,423.2 148.7,424.7 152.6,425.7 C156.5,426.6 161.3,427.2 165.7,428.3 C170.0,429.4 174.4,430.7 178.7,432.2 C183.1,433.7 187.8,436.0 191.8,437.4 C195.7,438.8 199.1,439.7 202.2,440.5 C205.3,441.4 207.3,441.8 210.4,442.6 C213.5,443.4 217.4,444.6 220.9,445.2 C224.3,445.9 227.0,446.3 231.3,446.5 C235.7,446.7 242.2,446.2 247.0,446.5 C251.7,446.8 256.1,447.9 260.0,448.4 C263.9,448.8 267.0,449.1 270.4,449.1 C273.9,449.1 277.0,448.7 280.9,448.4 C284.8,448.0 290.0,447.9 293.9,447.3 C297.8,446.7 300.9,445.5 304.4,444.7 C307.8,443.9 311.3,443.2 314.8,442.6 C318.3,442.0 321.7,441.8 325.2,441.3 C328.7,440.8 332.2,440.0 335.7,439.5 C339.1,438.9 343.5,438.2 346.1,437.9 C348.7,437.7 349.1,437.7 351.3,437.9 C353.5,438.2 356.5,438.9 359.1,439.5 C361.8,440.0 365.2,440.8 367.0,441.3 C368.8,441.8 368.2,442.0 370.0,442.6 C371.8,443.3 375.2,444.3 377.8,445.2 C380.4,446.2 383.0,447.0 385.7,448.4 C388.3,449.7 390.9,451.7 393.5,453.0 C396.1,454.4 398.7,455.6 401.3,456.4 C403.9,457.3 406.5,457.8 409.1,458.3 C411.7,458.7 414.4,458.7 417.0,459.1 C419.6,459.4 422.2,459.9 424.8,460.4 C427.4,460.8 430.4,461.4 432.6,461.7 C434.8,462.0 435.7,462.5 437.8,462.2 C440.0,461.8 443.0,460.6 445.7,459.6 C448.3,458.6 450.9,457.1 453.5,456.2 C456.1,455.3 458.7,455.1 461.3,454.4 C463.9,453.6 466.5,452.7 469.1,451.7 C471.7,450.7 474.4,449.4 477.0,448.4 C479.6,447.3 482.2,446.0 484.8,445.2 C487.4,444.4 490.0,443.9 492.6,443.4 C495.2,442.9 497.8,442.6 500.4,442.1 C503.1,441.6 505.7,441.0 508.3,440.5 C510.9,440.1 513.9,439.6 516.1,439.5 C518.3,439.4 519.6,439.8 521.3,440.0 C523.1,440.2 525.7,440.4 526.5,440.5" fill="none" stroke="#f06060" stroke-width="1.25"/>
<text x="593.5" y="419.8" font-size="11.8" fill="#707070">70</text>
<text x="593.5" y="437" font-size="11.8" fill="#707070">50</text>
<text x="593.5" y="454.2" font-size="11.8" fill="#707070">30</text>
<polyline points="35.3,477.5 35.3,471.3 583,471.3 583,477.5" fill="none" stroke="#b0b0b0" stroke-width="1.4"/>
<text x="269.7" y="489.2" font-size="11.7" fill="#8a8a8a" text-anchor="middle">Jan 8</text>
<text x="521" y="489.2" font-size="11.7" fill="#8a8a8a" text-anchor="middle">Jan 9</text>
</g>
</svg>
</body></html>
